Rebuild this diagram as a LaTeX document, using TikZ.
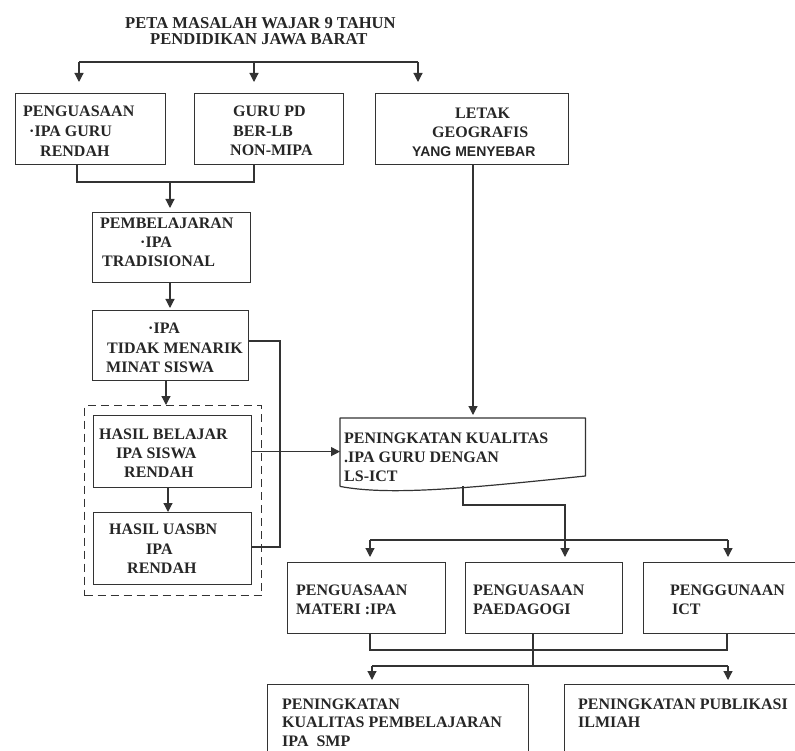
\documentclass[tikz,border=0pt]{standalone}
\usepackage{fontspec}
\setmainfont{Liberation Serif}
\newfontfamily\sansf{Liberation Sans}
\usetikzlibrary{arrows.meta,calc}
\begin{document}
\begin{tikzpicture}[x=1pt,y=-1pt,
  box/.style={draw=black!80,line width=1.2pt,rectangle,inner sep=0pt,anchor=north west},
  txt/.style={anchor=base west,inner sep=0pt,font=\fontsize{16}{19}\selectfont\bfseries,text=black!85},
  ln/.style={draw=black!80,line width=1.2pt},
  arr/.style={-{Triangle[width=9pt,length=9pt]}}]
\useasboundingbox (0,0) rectangle (795,751);
\fill[white] (0,0) rectangle (795,751);
\clip (0,0) rectangle (795,751);

% title
\node[txt,font=\fontsize{16.6}{19}\selectfont\bfseries] (ti1) at (125,29) {PETA MASALAH WAJAR 9 TAHUN};
\node[txt,font=\fontsize{16.6}{19}\selectfont\bfseries] (ti2) at (150,45) {PENDIDIKAN JAWA BARAT};

% first row
\node[box,minimum width=150,minimum height=71] (b1) at (15,93) {};
\node[box,minimum width=149,minimum height=71] (b2) at (194,93) {};
\node[box,minimum width=193,minimum height=71] (b3) at (375,93) {};
\node[txt] (b1a) at (23,117) {PENGUASAAN};
\node[txt] (b1b) at (29,137) {·IPA GURU};
\node[txt] (b1c) at (40,157) {RENDAH};
\node[txt] (b2a) at (233,117) {GURU PD};
\node[txt] (b2b) at (233,137) {BER-LB};
\node[txt] (b2c) at (230,156) {NON-MIPA};
\node[txt] (b3a) at (455,119) {LETAK};
\node[txt] (b3b) at (432,138) {GEOGRAFIS};
\node[txt,font=\fontsize{14}{17}\sansf\bfseries] (b3c) at (412,157) {YANG MENYEBAR};

% left column
\node[box,minimum width=158,minimum height=70] (pb) at (92,212) {};
\node[txt] (pba) at (100,229) {PEMBELAJARAN};
\node[txt] (pbb) at (140,248) {·IPA};
\node[txt] (pbc) at (102,267) {TRADISIONAL};

\node[box,minimum width=156,minimum height=70] (it) at (92,310) {};
\node[txt] (ita) at (148,334) {·IPA};
\node[txt] (itb) at (107,353) {TIDAK MENARIK};
\node[txt] (itc) at (106,372) {MINAT SISWA};

\node[box,dash pattern=on 8pt off 5pt,minimum width=177,minimum height=190] (grp) at (84,405) {};
\node[box,minimum width=158,minimum height=72] (hb) at (93,415) {};
\node[txt] (hba) at (99,439) {HASIL BELAJAR};
\node[txt] (hbb) at (116,458) {IPA SISWA};
\node[txt] (hbc) at (124,477) {RENDAH};
\node[box,minimum width=158,minimum height=72] (hu) at (93,512) {};
\node[txt] (hua) at (109,534) {HASIL UASBN};
\node[txt] (hub) at (146,554) {IPA};
\node[txt] (huc) at (127,573) {RENDAH};

% document shape
\node[inner sep=0pt,minimum width=245,minimum height=68,anchor=north west] (pk) at (340,418) {};
\draw[ln,line join=round] (pk.south west) -- (pk.north west) -- (pk.north east) -- ($(pk.north east)+(0,58)$)
   .. controls (470,488) and (390,496) .. (pk.south west);
\node[txt] (pka) at (344,443) {PENINGKATAN KUALITAS};
\node[txt] (pkb) at (344,462) {.IPA GURU DENGAN};
\node[txt] (pkc) at (344,481) {LS-ICT};

% middle row
\node[box,minimum width=158,minimum height=71] (ba) at (287,562) {};
\node[box,minimum width=157,minimum height=71] (bb) at (465,562) {};
\node[box,minimum width=200,minimum height=71] (bc) at (643,562) {};
\node[txt] (baa) at (296,595) {PENGUASAAN};
\node[txt] (bab) at (296,614) {MATERI :IPA};
\node[txt] (bba) at (473,595) {PENGUASAAN};
\node[txt] (bbb) at (473,614) {PAEDAGOGI};
\node[txt] (bca) at (670,595) {PENGGUNAAN};
\node[txt] (bcb) at (672,614) {ICT};

% bottom row
\node[box,minimum width=261,minimum height=120] (bd) at (267,684) {};
\node[box,minimum width=300,minimum height=120] (be) at (564,684) {};
\node[txt] (bda) at (282,709) {PENINGKATAN};
\node[txt] (bdb) at (282,727) {KUALITAS PEMBELAJARAN};
\node[txt] (bdc) at (282,746) {IPA\enspace SMP};
\node[txt] (bea) at (578,709) {PENINGKATAN PUBLIKASI};
\node[txt] (beb) at (578,727) {ILMIAH};

% connectors: title bar
\coordinate (tL) at (79,62);
\coordinate (tM) at (254,62);
\coordinate (tR) at (418,62);
\draw[ln] (tL) -- (tR);
\draw[ln,arr,shorten >=11pt] (tL) -- (tL |- b1.north);
\draw[ln,arr,shorten >=11pt] (tM) -- (tM |- b2.north);
\draw[ln,arr,shorten >=11pt] (tR) -- (tR |- b3.north);

% b1,b2 -> pb
\coordinate (j1) at (77,182);
\coordinate (j2) at (254,182);
\coordinate (jm) at (170,182);
\draw[ln] (b1.south -| j1) -- (j1) -- (j2) -- (b2.south -| j2);
\draw[ln,arr,shorten >=4pt] (jm) -- (jm |- pb.north);

% pb -> it -> grp
\coordinate (x1) at (170,0);
\draw[ln,arr,shorten >=2pt] (pb.south -| x1) -- (it.north -| x1);
\coordinate (x2) at (166,0);
\draw[ln,arr] (it.south -| x2) -- (grp.north -| x2);
\coordinate (x3) at (168,0);
\draw[ln,arr] (hb.south -| x3) -- (hu.north -| x3);

% loop from it to hu
\coordinate (lp1) at (280,341);
\coordinate (lp2) at (280,547);
\draw[ln] (it.east |- lp1) -- (lp1) -- (lp2) -- (hu.east |- lp2);

% hb -> pk, b3 -> pk
\draw[ln,arr] (hb.east) -- (pk.west |- hb.east);
\coordinate (x4) at (473,0);
\draw[ln,arr,shorten >=3pt] (b3.south -| x4) -- (pk.north -| x4);

% pk -> middle row
\coordinate (pkd) at (463,486);
\coordinate (k1) at (463,505);
\coordinate (k2) at (565,505);
\draw[ln,arr,shorten >=5pt] (pkd) -- (k1) -- (k2) -- (k2 |- bb.north);
\coordinate (mL) at (370,540);
\coordinate (mR) at (728,540);
\draw[ln] (mL) -- (mR);
\draw[ln,arr,shorten >=5pt] (mL) -- (mL |- ba.north);
\draw[ln,arr,shorten >=5pt] (mR) -- (mR |- bc.north);

% middle row -> bottom row
\coordinate (n1) at (370,650);
\coordinate (n2) at (727,650);
\coordinate (n3) at (533,650);
\draw[ln] (ba.south -| n1) -- (n1) -- (n2) -- (bc.south -| n2);
\coordinate (q1) at (372,666);
\coordinate (q2) at (728,666);
\draw[ln] (bb.south -| n3) -- (n3 |- q1);
\draw[ln] (q1) -- (q2);
\draw[ln,arr,shorten >=4pt] (q1) -- (q1 |- bd.north);
\draw[ln,arr,shorten >=4pt] (q2) -- (q2 |- be.north);
\end{tikzpicture}
\end{document}
